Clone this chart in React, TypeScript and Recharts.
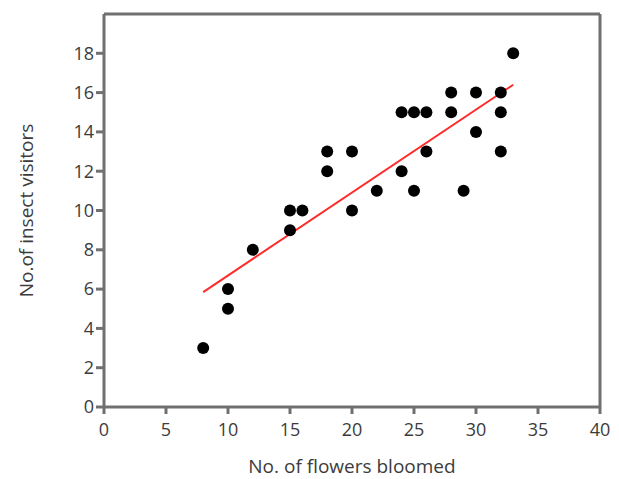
import React from "react";
import {
  ScatterChart, Scatter, XAxis, YAxis, ReferenceLine,
} from "recharts";

// flowers bloomed vs insect visitors
const flowers = [8, 10, 10, 12, 15, 15, 16, 18, 18, 20, 20, 22, 24, 24, 25, 25, 26, 26, 28, 28, 29, 30, 30, 32, 32, 32, 33];
const visitors = [3, 5, 6, 8, 9, 10, 10, 12, 13, 10, 13, 11, 12, 15, 15, 11, 15, 13, 15, 16, 11, 16, 14, 16, 15, 13, 18];

// fitted trend line end points
const fitX = [8, 33];
const fitY = [5.85, 16.4];

const xTicks = [0, 5, 10, 15, 20, 25, 30, 35, 40];
const yTicks = [0, 2, 4, 6, 8, 10, 12, 14, 16, 18];

const points = flowers.map((x, i) => ({ x, y: visitors[i] }));

const axisColor = "#707070";
const textColor = "#3c3c3c";
const font = "'Open Sans', 'Noto Sans', sans-serif";

const Dot = (props: any) => <circle cx={props.cx} cy={props.cy} r={6} fill="#000" />;

export default function App() {
  return (
    <div style={{ position: "absolute", left: 0, top: 0, background: "#fff", fontFamily: font }}>
      <ScatterChart width={619} height={479} margin={{ top: 14, right: 19, bottom: 4, left: 44 }}>
        <XAxis
          type="number" dataKey="x" domain={[0, 40]} ticks={xTicks} height={68}
          stroke={axisColor} strokeWidth={3} tickSize={7} tickMargin={9}
          tick={{ fill: textColor, fontSize: 18, fontFamily: font }}
          label={{ value: "No. of flowers bloomed", position: "insideBottom", offset: 0, dy: -2, fill: textColor, fontSize: 19, fontFamily: font }}
        />
        <YAxis
          type="number" dataKey="y" domain={[0, 20]} ticks={yTicks} width={60}
          stroke={axisColor} strokeWidth={3} tickSize={8} tickMargin={2}
          tick={{ fill: textColor, fontSize: 18, fontFamily: font }}
          label={{ value: "No.of insect visitors", angle: -90, position: "insideLeft", offset: 0, dx: -18, style: { textAnchor: "middle" }, fill: textColor, fontSize: 19, fontFamily: font }}
        />
        {/* frame: top and right edges of the plot box */}
        <ReferenceLine y={20} stroke={axisColor} strokeWidth={3} />
        <ReferenceLine x={40} stroke={axisColor} strokeWidth={3} />
        <ReferenceLine
          segment={[{ x: fitX[0], y: fitY[0] }, { x: fitX[1], y: fitY[1] }]}
          stroke="#ff2a2a" strokeWidth={2}
        />
        <Scatter data={points} fill="#000" shape={Dot} isAnimationActive={false} />
      </ScatterChart>
    </div>
  );
}
